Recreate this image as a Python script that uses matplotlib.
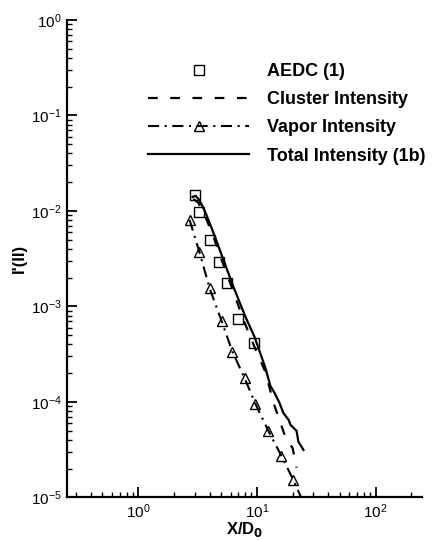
import numpy as np
import matplotlib.pyplot as plt

plt.rcParams['font.family'] = ['Liberation Sans', 'DejaVu Sans']
plt.rcParams['lines.scale_dashes'] = False

# AEDC (1) measured points
aedc_x = [3.04, 3.28, 3.99, 4.76, 5.55, 7.00, 9.55]
aedc_y = [0.0147, 0.00977, 0.00497, 0.00292, 0.00176, 0.00074, 0.000415]

# Cluster intensity (dashed)
cluster_x = [2.92, 3.22, 3.69, 4.31, 5.23, 6.35, 7.71, 9.55, 11.8, 13.8, 15.5, 17.7, 20.0, 21.6]
cluster_y = [0.01336, 0.01213, 0.00865, 0.00535, 0.00272, 0.00142, 0.000722, 0.000377,
             0.000206, 9.77e-5, 6.48e-5, 4.0e-5, 3.3e-5, 2.04e-5]

# Vapor intensity (dash-dot, triangles)
vapor_x = [2.71, 3.28, 3.99, 5.04, 6.23, 7.87, 9.73, 12.5, 16.1, 20.3, 24.7]
vapor_y = [0.00805, 0.00372, 0.00156, 0.000705, 0.000334, 0.000178, 9.53e-5,
           4.97e-5, 2.72e-5, 1.52e-5, 8.75e-6]

# Total intensity (1b) (solid)
total_x = [2.87, 3.04, 3.22, 3.48, 3.76, 4.31, 5.23, 6.35, 8.02, 9.55, 11.8, 13.0,
           14.1, 15.5, 16.7, 18.5, 19.2, 21.6, 22.4, 24.7]
total_y = [0.0140, 0.0144, 0.01336, 0.01128, 0.00908, 0.00589, 0.00307, 0.00160,
           0.000776, 0.000480, 0.000227, 0.000147, 0.000124, 9.77e-5, 7.67e-5,
           6.48e-5, 5.75e-5, 4.97e-5, 3.81e-5, 3.14e-5]

fig = plt.figure(figsize=(4.33, 5.4), dpi=100)
ax = fig.add_axes([0.155, 0.079, 0.82, 0.884])

ax.plot(aedc_x, aedc_y, 's', ms=6.5, mfc='none', mec='black', mew=1.0,
        label='AEDC (1)')
ax.plot(cluster_x, cluster_y, color='black', lw=1.6, dashes=(7, 9),
        label='Cluster Intensity')
ax.plot(vapor_x, vapor_y, color='black', lw=1.5, dashes=(8, 4, 1.5, 4),
        marker='^', ms=7, mfc='none', mec='black', mew=1.0,
        markevery=slice(0, 10), label='Vapor Intensity')
ax.plot(total_x, total_y, color='black', lw=1.6, label='Total Intensity (1b)')

ax.set_xscale('log')
ax.set_yscale('log')
ax.set_xlim(0.252, 247)
ax.set_ylim(1e-5, 1)

for s in ['top', 'right']:
    ax.spines[s].set_visible(False)
for s in ['left', 'bottom']:
    ax.spines[s].set_linewidth(1.6)

ax.tick_params(which='major', direction='in', length=7, width=1.3,
               labelsize=11, pad=4, top=False, right=False)
ax.tick_params(which='minor', direction='in', length=3.5, width=1.0,
               top=False, right=False)

ax.set_xlabel('X/D$_\\mathbf{0}$', fontsize=12, fontweight='bold', labelpad=-1)
ax.set_ylabel("I'(II)", fontsize=12, fontweight='bold', labelpad=3)

ax.legend(loc='upper left', bbox_to_anchor=(148 / 433, 1 - 63 / 540),
          bbox_transform=fig.transFigure, frameon=False, numpoints=1,
          handlelength=5.6, handletextpad=1.0, labelspacing=0.62,
          borderpad=0, borderaxespad=0,
          prop={'weight': 'bold', 'size': 13})

fig.savefig('out.png', dpi=100)
